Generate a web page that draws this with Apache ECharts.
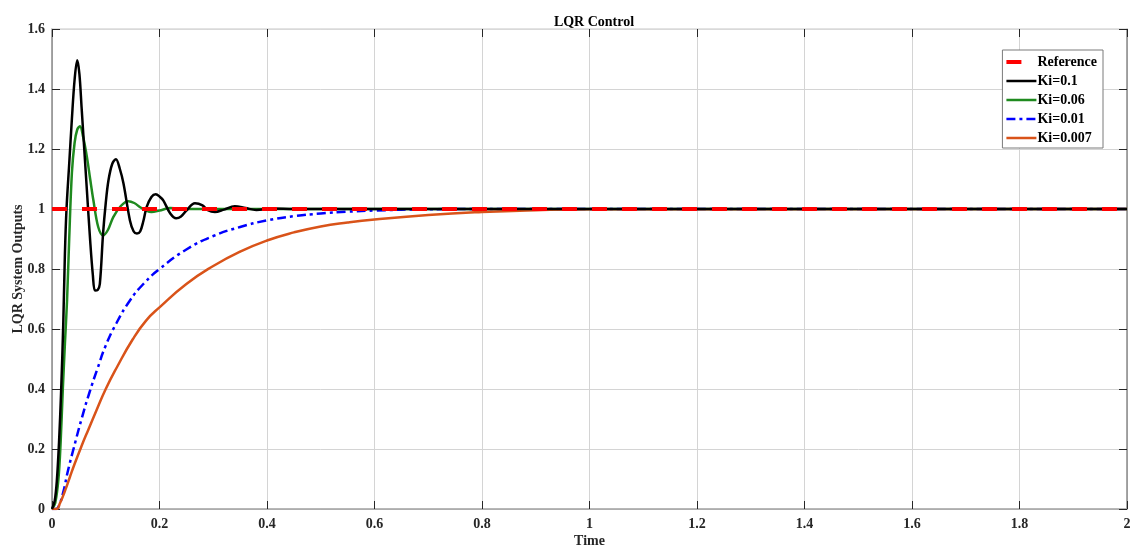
<!DOCTYPE html>
<html>
<head>
<meta charset="utf-8">
<script src="https://cdn.jsdelivr.net/npm/echarts@6/dist/echarts.min.js"></script>
<style>
html,body{margin:0;padding:0;background:#fff;}
#c{width:1134px;height:548px;}
</style>
</head>
<body>
<div id="c"></div>
<script>
var titleText = 'LQR Control';
var xName = 'Time';
var yName = 'LQR System Outputs';
var seriesNames = ['Reference', 'Ki=0.1', 'Ki=0.06', 'Ki=0.01', 'Ki=0.007'];

var refT = [0, 2];
var refY = [1, 1];

var k1T = [0, 0.005, 0.009, 0.013, 0.017, 0.021, 0.024, 0.027, 0.032, 0.037, 0.042, 0.047, 0.051, 0.055, 0.060, 0.065, 0.071, 0.076, 0.080, 0.085, 0.089, 0.095, 0.100, 0.105, 0.112, 0.119, 0.126, 0.133, 0.145, 0.152, 0.158, 0.164, 0.170, 0.176, 0.185, 0.193, 0.200, 0.207, 0.220, 0.231, 0.240, 0.250, 0.266, 0.280, 0.290, 0.303, 0.320, 0.340, 0.360, 0.380, 0.410, 0.450, 0.600, 1.0, 1.5, 2.0];
var k1Y = [0, 0.027, 0.094, 0.22, 0.394, 0.62, 0.85, 1.0, 1.15, 1.3, 1.43, 1.496, 1.45, 1.34, 1.2, 1.06, 0.895, 0.78, 0.728, 0.73, 0.75, 0.918, 1.02, 1.095, 1.15, 1.166, 1.135, 1.085, 0.962, 0.925, 0.918, 0.925, 0.96, 1.006, 1.04, 1.049, 1.042, 1.029, 0.985, 0.969, 0.975, 0.995, 1.019, 1.012, 0.996, 0.99, 0.998, 1.009, 1.003, 0.997, 1.002, 1.0, 1.0, 1.0, 1.0, 1.0];

var k06T = [0, 0.006, 0.012, 0.016, 0.020, 0.024, 0.028, 0.032, 0.037, 0.042, 0.047, 0.052, 0.058, 0.065, 0.071, 0.077, 0.086, 0.095, 0.104, 0.114, 0.128, 0.142, 0.153, 0.164, 0.175, 0.185, 0.200, 0.220, 0.250, 0.300, 1.0, 2.0];
var k06Y = [0, 0.02, 0.1, 0.22, 0.394, 0.55, 0.695, 0.9, 1.12, 1.22, 1.265, 1.276, 1.24, 1.173, 1.1, 1.029, 0.94, 0.912, 0.93, 0.973, 1.01, 1.026, 1.02, 1.006, 0.995, 0.99, 0.995, 1.003, 1.0, 1.0, 1.0, 1.0];

var k01T = [0, 0.006, 0.011, 0.020, 0.030, 0.040, 0.055, 0.070, 0.085, 0.100, 0.120, 0.145, 0.170, 0.200, 0.250, 0.300, 0.350, 0.400, 0.450, 0.500, 0.550, 0.600, 0.700, 0.800, 1.0, 2.0];
var k01Y = [0, 0, 0.004, 0.05, 0.13, 0.2, 0.3, 0.39, 0.47, 0.545, 0.62, 0.695, 0.75, 0.80, 0.865, 0.91, 0.94, 0.962, 0.976, 0.985, 0.991, 0.995, 0.999, 1.0, 1.0, 1.0];

var k007T = [0, 0.008, 0.015, 0.024, 0.033, 0.042, 0.055, 0.067, 0.083, 0.100, 0.120, 0.150, 0.175, 0.200, 0.250, 0.300, 0.350, 0.400, 0.450, 0.500, 0.550, 0.600, 0.700, 0.800, 0.900, 1.0, 2.0];
var k007Y = [0, 0, 0.02, 0.06, 0.105, 0.15, 0.21, 0.262, 0.33, 0.4, 0.47, 0.565, 0.628, 0.672, 0.75, 0.81, 0.858, 0.895, 0.922, 0.942, 0.955, 0.965, 0.98, 0.99, 0.996, 0.999, 1.0];

var xTickInterval = 0.2;
var yTickInterval = 0.2;

function pairs(t, y) { return t.map(function (v, i) { return [v, y[i]]; }); }

var FONT = 'Liberation Serif';
var TXT = '#262626';

var chart = echarts.init(document.getElementById('c'), null, { renderer: 'canvas' });

var axisLabelStyle = { fontFamily: FONT, fontWeight: 'bold', fontSize: 14, color: TXT };
var legendWidths = [4, 2.5, 2.5, 2.5, 2.5];

chart.setOption({
  animation: false,
  backgroundColor: '#ffffff',
  title: {
    text: titleText, left: 589, textAlign: 'center', top: 10,
    textStyle: { fontFamily: FONT, fontWeight: 'bold', fontSize: 14, color: '#000' }
  },
  grid: { left: 52, right: 7, top: 29, bottom: 39, containLabel: false, outerBoundsMode: 'none' },
  legend: {
    data: seriesNames.map(function (n, i) { return { name: n, lineStyle: { width: legendWidths[i] } }; }),
    orient: 'vertical',
    right: 31, top: 50,
    itemWidth: 30, itemHeight: 14, itemGap: 5,
    padding: [5, 6, 3, 2],
    backgroundColor: '#ffffff',
    borderColor: '#7a7a7a', borderWidth: 1,
    itemStyle: { opacity: 0 },
    textStyle: { fontFamily: FONT, fontWeight: 'bold', fontSize: 14, color: '#000', padding: [0, 0, 0, -4] }
  },
  xAxis: [{
    type: 'value', min: 0, max: 2, interval: xTickInterval, position: 'bottom',
    name: xName, nameLocation: 'middle', nameGap: 25, nameMoveOverlap: false,
    nameTextStyle: { fontFamily: FONT, fontWeight: 'bold', fontSize: 14, color: TXT },
    axisLine: { show: true, onZero: false, lineStyle: { color: '#a0a0a0', width: 1.5 } },
    axisTick: { show: true, inside: true, length: 8, lineStyle: { color: '#262626' } },
    axisLabel: Object.assign({ margin: 8 }, axisLabelStyle),
    splitLine: { show: true, lineStyle: { color: '#d4d4d4', width: 1 } }
  }, {
    type: 'value', min: 0, max: 2, interval: xTickInterval, position: 'top',
    axisLine: { show: true, onZero: false, lineStyle: { color: '#dadada', width: 1.5 } },
    axisTick: { show: true, inside: true, length: 8, lineStyle: { color: '#262626' } },
    axisLabel: { show: false }, splitLine: { show: false }
  }],
  yAxis: [{
    type: 'value', min: 0, max: 1.6, interval: yTickInterval, position: 'left',
    name: yName, nameLocation: 'middle', nameGap: 27, nameRotate: 90, nameMoveOverlap: false,
    nameTextStyle: { fontFamily: FONT, fontWeight: 'bold', fontSize: 14, color: TXT },
    axisLine: { show: true, onZero: false, lineStyle: { color: '#8a8a8a', width: 1.5 } },
    axisTick: { show: true, inside: true, length: 8, lineStyle: { color: '#262626' } },
    axisLabel: Object.assign({ margin: 7 }, axisLabelStyle),
    splitLine: { show: true, lineStyle: { color: '#d4d4d4', width: 1 } }
  }, {
    type: 'value', min: 0, max: 1.6, interval: yTickInterval, position: 'right',
    axisLine: { show: true, onZero: false, lineStyle: { color: '#8a8a8a', width: 1.5 } },
    axisTick: { show: true, inside: true, length: 8, lineStyle: { color: '#262626' } },
    axisLabel: { show: false }, splitLine: { show: false }
  }],
  series: [{
    name: seriesNames[0], type: 'line', data: pairs(refT, refY), symbol: 'none', z: 5,
    itemStyle: { color: '#ff0000' },
    lineStyle: { color: '#ff0000', width: 4, type: [15, 15] }
  }, {
    name: seriesNames[1], type: 'line', data: pairs(k1T, k1Y), symbol: 'none', z: 3,
    smooth: 0.35,
    itemStyle: { color: '#000000' },
    lineStyle: { color: '#000000', width: 2.5 }
  }, {
    name: seriesNames[2], type: 'line', data: pairs(k06T, k06Y), symbol: 'none', z: 2,
    smooth: 0.35,
    itemStyle: { color: '#1f8a1f' },
    lineStyle: { color: '#1f8a1f', width: 2.5 }
  }, {
    name: seriesNames[3], type: 'line', data: pairs(k01T, k01Y), symbol: 'none', z: 2,
    smooth: 0.5,
    itemStyle: { color: '#0000ff' },
    lineStyle: { color: '#0000ff', width: 2.5, type: [9, 4, 3, 4] }
  }, {
    name: seriesNames[4], type: 'line', data: pairs(k007T, k007Y), symbol: 'none', z: 2,
    smooth: 0.5,
    itemStyle: { color: '#d95319' },
    lineStyle: { color: '#d95319', width: 2.5 }
  }]
});
</script>
</body>
</html>
